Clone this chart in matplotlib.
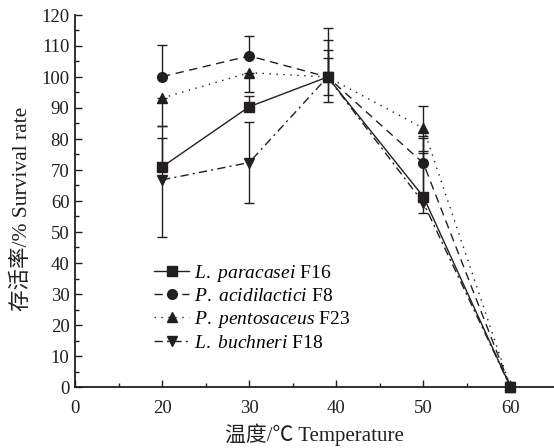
import matplotlib
matplotlib.use("Agg")
import matplotlib.pyplot as plt
from matplotlib.lines import Line2D
from matplotlib.ticker import FixedLocator
import numpy as np

plt.rcParams["font.family"] = ["Liberation Serif", "Noto Sans CJK SC"]
plt.rcParams["mathtext.fontset"] = "custom"
plt.rcParams["mathtext.rm"] = "Liberation Serif"
plt.rcParams["mathtext.it"] = "Liberation Serif:italic"

temps = [20, 30, 39, 50, 60]

names = [r"$\it{L.}$ $\it{paracasei}$ F16", r"$\it{P.}$ $\it{acidilactici}$ F8",
         r"$\it{P.}$ $\it{pentosaceus}$ F23", r"$\it{L.}$ $\it{buchneri}$ F18"]

paracasei = [71.0, 90.4, 100.0, 61.4, 0.0]
paracasei_lo = [0.0, 0.0, 8.2, 0.0, 0.0]
paracasei_hi = [9.2, 3.5, 8.7, 18.8, 0.0]

acidilactici = [100.1, 106.8, 100.0, 72.2, 0.0]
acidilactici_lo = [0.0, 0.0, 0.0, 0.0, 0.0]
acidilactici_hi = [10.2, 6.4, 15.7, 8.8, 0.0]

pentosaceus = [93.2, 101.4, 100.0, 83.5, 0.0]
pentosaceus_lo = [8.9, 6.1, 0.0, 7.3, 0.0]
pentosaceus_hi = [0.0, 0.0, 11.9, 7.1, 0.0]

buchneri = [66.8, 72.4, 100.0, 59.4, 0.0]
buchneri_lo = [18.3, 13.1, 5.8, 3.4, 0.0]
buchneri_hi = [17.5, 13.2, 6.0, 16.0, 0.0]

x_ticks = [0, 20, 30, 40, 50, 60]
x_minor = [10, 25, 35, 45, 55]


# x axis: 0-20 is squeezed to the same width as each later 10-degree step
def fwd(x):
    x = np.asarray(x, dtype=float)
    return np.where(x < 20, x / 20.0, (x - 10.0) / 10.0)


def inv(p):
    p = np.asarray(p, dtype=float)
    return np.where(p < 1, p * 20.0, p * 10.0 + 10.0)


fig = plt.figure(figsize=(5.54, 4.48), dpi=100)
ax = fig.add_axes([75 / 554, 61 / 448, 479 / 554, 372 / 448])
ax.set_xscale("function", functions=(fwd, inv))

dark = "#231f20"
series = [
    (paracasei, paracasei_lo, paracasei_hi, "s", "-"),
    (acidilactici, acidilactici_lo, acidilactici_hi, "o", (0, (6, 4))),
    (pentosaceus, pentosaceus_lo, pentosaceus_hi, "^", (0, (1, 4))),
    (buchneri, buchneri_lo, buchneri_hi, "v", (0, (6, 3, 1.5, 3))),
]
handles = []
for (vals, lo, hi, mk, ls), name in zip(series, names):
    ax.errorbar(temps, vals, yerr=[lo, hi], color=dark, marker=mk,
                markersize=7, linestyle=ls, linewidth=1.0,
                elinewidth=1.0, capsize=3.5, capthick=1.0,
                clip_on=False, zorder=3)
    handles.append(Line2D([], [], color=dark, marker=mk, markersize=7,
                          linestyle=ls, linewidth=1.0, label=name))

ax.set_xlim(0, 65)
ax.set_ylim(0, 120)
ax.xaxis.set_major_locator(FixedLocator(x_ticks))
ax.xaxis.set_minor_locator(FixedLocator(x_minor))
ax.set_xticklabels([str(t) for t in x_ticks])
ax.set_yticks(range(0, 121, 10))
ax.yaxis.set_minor_locator(FixedLocator(range(5, 120, 10)))

for side in ["top", "right"]:
    ax.spines[side].set_visible(False)
for side in ["left", "bottom"]:
    ax.spines[side].set_linewidth(1.3)
    ax.spines[side].set_color(dark)

ax.tick_params(which="major", direction="in", length=5, width=1.0,
               labelsize=13.5, colors=dark, pad=4)
ax.tick_params(axis="x", which="major", pad=9)
ax.tick_params(which="minor", direction="in", length=3, width=1.0,
               colors=dark)

ax.set_xlabel("温度/℃ Temperature", fontsize=15, color=dark, labelpad=5)
ax.set_ylabel("存活率/% Survival rate", fontsize=15.5, color=dark)
ax.yaxis.set_label_coords(-0.09, 0.48)

ax.legend(handles=handles, loc="upper left", bbox_to_anchor=(0.165, 0.334),
          frameon=False, fontsize=14, handlelength=1.8,
          handletextpad=0.25, labelspacing=0.2, borderaxespad=0,
          borderpad=0)

fig.savefig("out.png", dpi=100, facecolor="white")
